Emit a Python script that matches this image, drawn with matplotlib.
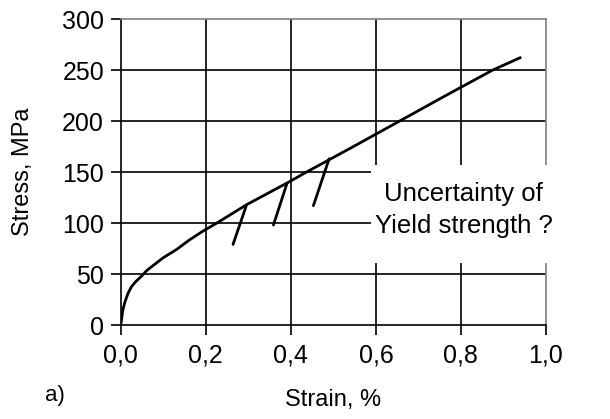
import numpy as np
import matplotlib.pyplot as plt
from matplotlib.patches import Rectangle

plt.rcParams['font.family'] = ['Liberation Sans', 'DejaVu Sans']

# stress-strain curve read along the loading path
strain = [0.0, 0.002, 0.005, 0.010, 0.017, 0.025, 0.035, 0.049, 0.060, 0.075,
          0.100, 0.131, 0.160, 0.193, 0.226, 0.296, 0.39, 0.437, 0.49, 0.556,
          0.656, 0.76, 0.875, 0.939]
stress = [0, 6, 15, 23, 31, 37.5, 42.5, 48, 53, 58,
          66, 74, 83, 92, 100, 118, 139, 150, 162, 177,
          200, 224, 250, 262]

# offset (unloading) lines used to pick the yield point
offset_top = [(0.296, 118), (0.391, 139), (0.49, 163)]
offset_bottom = [(0.264, 79), (0.359, 98), (0.453, 117)]

xticks = [0.0, 0.2, 0.4, 0.6, 0.8, 1.0]
xticklabels = ['0,0', '0,2', '0,4', '0,6', '0,8', '1,0']
yticks = [0, 50, 100, 150, 200, 250, 300]

fig = plt.figure(figsize=(6.1, 4.19), dpi=100)
ax = fig.add_axes([0.198, 0.2243, 0.697, 0.7303])

ax.set_xlim(0, 1.0)
ax.set_ylim(0, 300)
ax.set_xticks(xticks)
ax.set_xticklabels(xticklabels)
ax.set_yticks(yticks)

# grid lines in black, plot-area border in grey
for x in xticks[1:-1]:
    ax.axvline(x, color='black', lw=1.2, zorder=1)
for y in yticks[1:-1]:
    ax.axhline(y, color='black', lw=1.2, zorder=1)

for side in ['top', 'right']:
    ax.spines[side].set_color('#808080')
    ax.spines[side].set_linewidth(1.2)
for side in ['left', 'bottom']:
    ax.spines[side].set_color('black')
    ax.spines[side].set_linewidth(1.2)

ax.tick_params(axis='both', direction='out', length=7, width=1.2, labelsize=18, color='black')
ax.tick_params(axis='x', pad=6)
ax.tick_params(axis='y', pad=5)

ax.plot(strain, stress, color='black', lw=2.0, zorder=3, solid_joinstyle='round')
for (x0, y0), (x1, y1) in zip(offset_top, offset_bottom):
    ax.plot([x0, x1], [y0, y1], color='black', lw=2.0, zorder=3, solid_capstyle='round')

ax.set_xlabel('Strain, %', fontsize=17, labelpad=16)
ax.set_ylabel('Stress, MPa', fontsize=17, labelpad=20)

# white area behind the note
ax.add_patch(Rectangle((0.588, 0.203), 0.45, 0.32, transform=ax.transAxes,
                       facecolor='white', edgecolor='none', zorder=4, clip_on=False))
ax.text(0.807, 0.376, 'Uncertainty of\nYield strength ?', transform=ax.transAxes,
        ha='center', va='center', fontsize=18.5, linespacing=1.45, zorder=5)

fig.text(0.09, 0.057, 'a)', fontsize=16, ha='center', va='center')

fig.savefig('out.png', dpi=100)
